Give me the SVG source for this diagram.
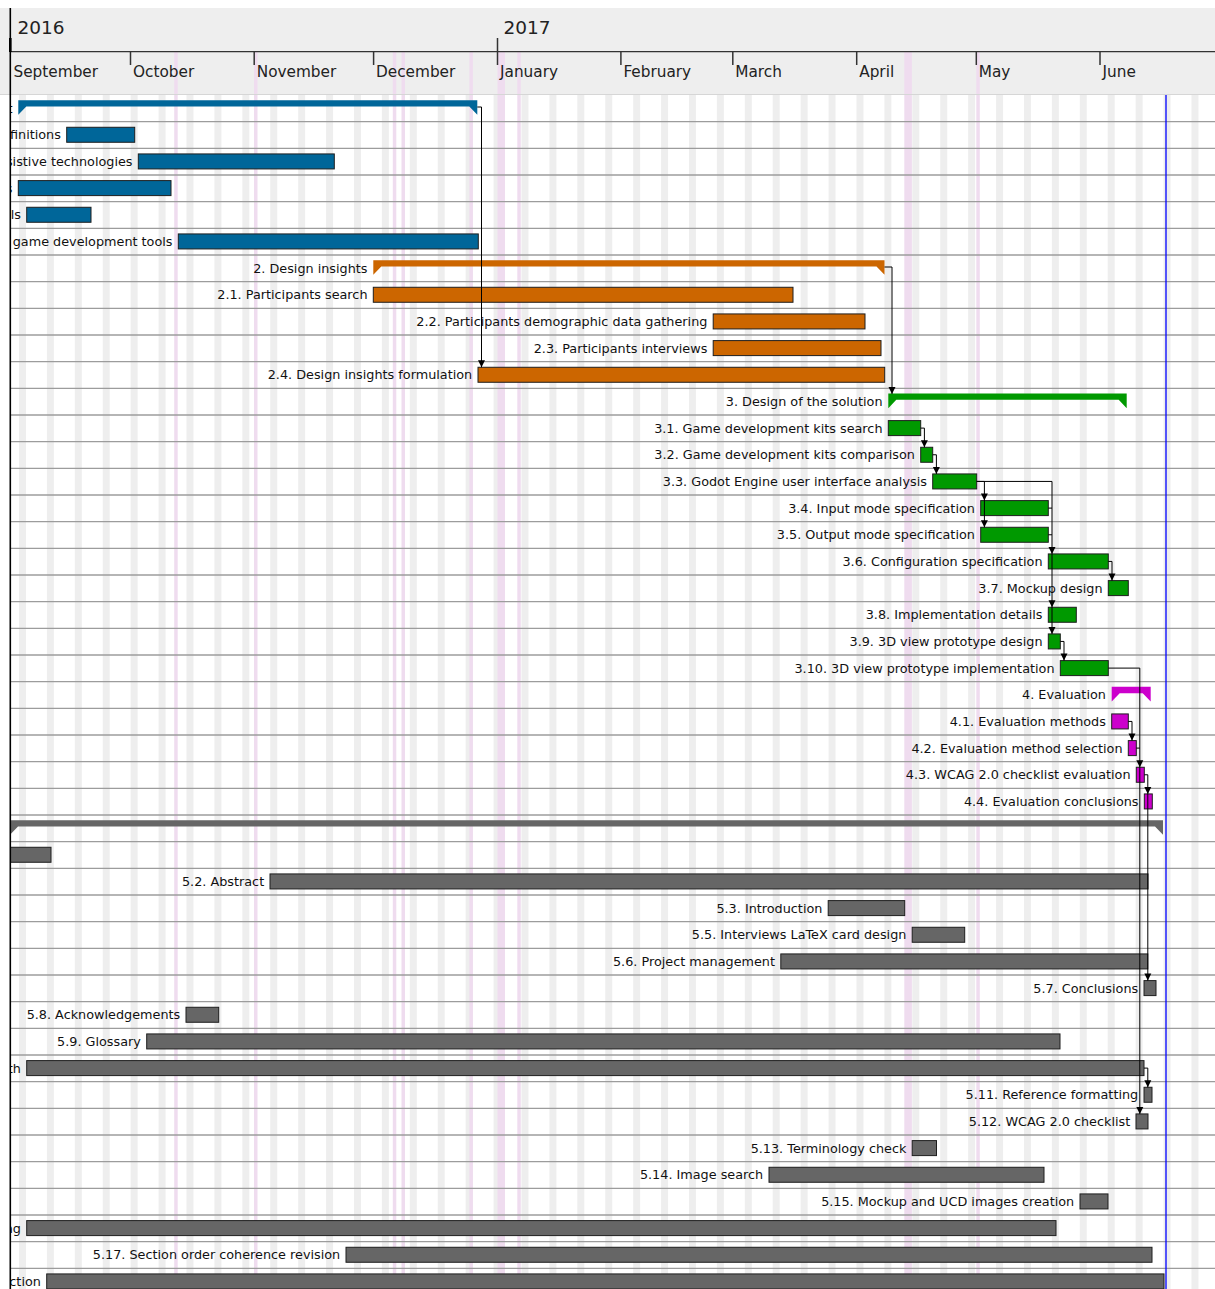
<svg xmlns="http://www.w3.org/2000/svg" xmlns:xlink="http://www.w3.org/1999/xlink" width="1215" height="1289" viewBox="0 0 1215 1289">
<defs>
<style>
  text { font-family: "DejaVu Sans", "Noto Sans", sans-serif; }
  .lbl { font-size: 12.8px; fill: #111; text-anchor: end; }
  .month { font-size: 15.3px; fill: #222; }
  .year { font-size: 18.5px; fill: #222; }
  .bar { stroke: #1e1e1e; stroke-width: 1; }
  .blue { fill: #006699; }
  .orange { fill: #cc6600; }
  .green { fill: #009900; }
  .magenta { fill: #cc00cc; }
  .grey { fill: #666666; }
  .row-line { stroke: #9c9c9c; stroke-width: 1.3; }
  .tick { stroke: #333; stroke-width: 1.5; }
  .holiday { fill: #efdcef; }
  .dep { fill: none; stroke: #000; stroke-width: 1; }
  .heads { fill: #000; stroke: none; }
</style>
<pattern id="weekend" patternUnits="userSpaceOnUse" x="19" y="0" width="27.916" height="1289">
  <rect x="0" y="0" width="7" height="1289" fill="#eeeeee"/>
</pattern>
<clipPath id="chart-clip">
  <rect x="10.6" y="0" width="1204.4" height="1289"/>
</clipPath>
<path id="arrow" d="M-3.5,-7 H3.5 L0,0 Z"/>
</defs>

<rect x="0" y="0" width="1215" height="1289" fill="#ffffff"/>
<rect id="header-background" x="0" y="8" width="1215" height="86" fill="#eeeeee"/>

<!-- calendar grid: weekends, holidays, row separators -->
<g id="calendar-grid">
  <rect x="10" y="95" width="1205" height="1194" fill="url(#weekend)"/>
  <rect class="holiday" x="174.2" y="52" width="3.5" height="1237"/>
  <rect class="holiday" x="254" y="52" width="3.5" height="1237"/>
  <rect class="holiday" x="392.8" y="52" width="3.5" height="1237"/>
  <rect class="holiday" x="401.5" y="52" width="3.5" height="1237"/>
  <rect class="holiday" x="469.4" y="52" width="3.5" height="1237"/>
  <rect class="holiday" x="497.5" y="52" width="7.5" height="1237"/>
  <rect class="holiday" x="517.3" y="52" width="3.5" height="1237"/>
  <rect class="holiday" x="904.3" y="52" width="7.6" height="1237"/>
  <rect class="holiday" x="976.3" y="52" width="3.5" height="1237"/>
  <g class="rows">
    <line class="row-line" x1="10" y1="121.67" x2="1215" y2="121.67"/>
    <line class="row-line" x1="10" y1="148.33" x2="1215" y2="148.33"/>
    <line class="row-line" x1="10" y1="175" x2="1215" y2="175"/>
    <line class="row-line" x1="10" y1="201.67" x2="1215" y2="201.67"/>
    <line class="row-line" x1="10" y1="228.33" x2="1215" y2="228.33"/>
    <line class="row-line" x1="10" y1="255" x2="1215" y2="255"/>
    <line class="row-line" x1="10" y1="281.67" x2="1215" y2="281.67"/>
    <line class="row-line" x1="10" y1="308.33" x2="1215" y2="308.33"/>
    <line class="row-line" x1="10" y1="335" x2="1215" y2="335"/>
    <line class="row-line" x1="10" y1="361.67" x2="1215" y2="361.67"/>
    <line class="row-line" x1="10" y1="388.33" x2="1215" y2="388.33"/>
    <line class="row-line" x1="10" y1="415" x2="1215" y2="415"/>
    <line class="row-line" x1="10" y1="441.67" x2="1215" y2="441.67"/>
    <line class="row-line" x1="10" y1="468.33" x2="1215" y2="468.33"/>
    <line class="row-line" x1="10" y1="495" x2="1215" y2="495"/>
    <line class="row-line" x1="10" y1="521.67" x2="1215" y2="521.67"/>
    <line class="row-line" x1="10" y1="548.33" x2="1215" y2="548.33"/>
    <line class="row-line" x1="10" y1="575" x2="1215" y2="575"/>
    <line class="row-line" x1="10" y1="601.67" x2="1215" y2="601.67"/>
    <line class="row-line" x1="10" y1="628.33" x2="1215" y2="628.33"/>
    <line class="row-line" x1="10" y1="655" x2="1215" y2="655"/>
    <line class="row-line" x1="10" y1="681.67" x2="1215" y2="681.67"/>
    <line class="row-line" x1="10" y1="708.33" x2="1215" y2="708.33"/>
    <line class="row-line" x1="10" y1="735" x2="1215" y2="735"/>
    <line class="row-line" x1="10" y1="761.67" x2="1215" y2="761.67"/>
    <line class="row-line" x1="10" y1="788.33" x2="1215" y2="788.33"/>
    <line class="row-line" x1="10" y1="815" x2="1215" y2="815"/>
    <line class="row-line" x1="10" y1="841.67" x2="1215" y2="841.67"/>
    <line class="row-line" x1="10" y1="868.33" x2="1215" y2="868.33"/>
    <line class="row-line" x1="10" y1="895" x2="1215" y2="895"/>
    <line class="row-line" x1="10" y1="921.67" x2="1215" y2="921.67"/>
    <line class="row-line" x1="10" y1="948.33" x2="1215" y2="948.33"/>
    <line class="row-line" x1="10" y1="975" x2="1215" y2="975"/>
    <line class="row-line" x1="10" y1="1001.67" x2="1215" y2="1001.67"/>
    <line class="row-line" x1="10" y1="1028.33" x2="1215" y2="1028.33"/>
    <line class="row-line" x1="10" y1="1055" x2="1215" y2="1055"/>
    <line class="row-line" x1="10" y1="1081.67" x2="1215" y2="1081.67"/>
    <line class="row-line" x1="10" y1="1108.33" x2="1215" y2="1108.33"/>
    <line class="row-line" x1="10" y1="1135" x2="1215" y2="1135"/>
    <line class="row-line" x1="10" y1="1161.67" x2="1215" y2="1161.67"/>
    <line class="row-line" x1="10" y1="1188.33" x2="1215" y2="1188.33"/>
    <line class="row-line" x1="10" y1="1215" x2="1215" y2="1215"/>
    <line class="row-line" x1="10" y1="1241.67" x2="1215" y2="1241.67"/>
    <line class="row-line" x1="10" y1="1268.33" x2="1215" y2="1268.33"/>
  </g>
  <line id="today" x1="1166" y1="95" x2="1166" y2="1289" stroke="#0000ff" stroke-width="1.3"/>
</g>

<!-- timeline header: years and months -->
<g id="timeline-header">
  <line x1="10" y1="51.7" x2="1215" y2="51.7" stroke="#333" stroke-width="1.3"/>
  <line x1="0" y1="94.5" x2="1215" y2="94.5" stroke="#d6d6d6" stroke-width="1"/>
  <line x1="10.3" y1="38" x2="10.3" y2="52" stroke="#000" stroke-width="2.6"/>
  <line class="tick" x1="497.5" y1="38" x2="497.5" y2="65"/>
  <g class="ticks">
    <line class="tick" x1="130.5" y1="51.7" x2="130.5" y2="65"/>
    <line class="tick" x1="254.2" y1="51.7" x2="254.2" y2="65"/>
    <line class="tick" x1="373.6" y1="51.7" x2="373.6" y2="65"/>
    <line class="tick" x1="620.9" y1="51.7" x2="620.9" y2="65"/>
    <line class="tick" x1="732.8" y1="51.7" x2="732.8" y2="65"/>
    <line class="tick" x1="856.7" y1="51.7" x2="856.7" y2="65"/>
    <line class="tick" x1="976.3" y1="51.7" x2="976.3" y2="65"/>
    <line class="tick" x1="1100" y1="51.7" x2="1100" y2="65"/>
  </g>
  <text class="year" x="17.5" y="34">2016</text>
  <text class="year" x="503.5" y="34">2017</text>
  <text class="month" x="13.5" y="76.5">September</text>
  <text class="month" x="133" y="76.5">October</text>
  <text class="month" x="256.7" y="76.5">November</text>
  <text class="month" x="376" y="76.5">December</text>
  <text class="month" x="500" y="76.5">January</text>
  <text class="month" x="623.4" y="76.5">February</text>
  <text class="month" x="735.3" y="76.5">March</text>
  <text class="month" x="859.2" y="76.5">April</text>
  <text class="month" x="978.8" y="76.5">May</text>
  <text class="month" x="1102.5" y="76.5">June</text>
</g>

<!-- tasks: one group per row -->
<g id="tasks" clip-path="url(#chart-clip)">
  <g id="task-1" transform="translate(0 95)">
    <path class="blue" d="M18.3,5.2 H477.3 V19.8 L469.3,11.5 H26.3 L18.3,19.8 Z"/>
    <text class="lbl" x="12.5" y="17.8">t</text>
  </g>
  <g id="task-1-1" transform="translate(0 121.67)">
    <rect class="bar blue" x="66.7" y="5.6" width="68" height="15"/>
    <text class="lbl" x="60.9" y="17.8">finitions</text>
  </g>
  <g id="task-1-2" transform="translate(0 148.33)">
    <rect class="bar blue" x="138.3" y="5.6" width="196" height="15"/>
    <text class="lbl" x="132.5" y="17.8">sistive technologies</text>
  </g>
  <g id="task-1-3" transform="translate(0 175)">
    <rect class="bar blue" x="18.3" y="5.6" width="152.7" height="15"/>
    <text class="lbl" x="12.5" y="17.8">s</text>
  </g>
  <g id="task-1-4" transform="translate(0 201.67)">
    <rect class="bar blue" x="26.7" y="5.6" width="64.3" height="15"/>
    <text class="lbl" x="20.9" y="17.8">ls</text>
  </g>
  <g id="task-1-5" transform="translate(0 228.33)">
    <rect class="bar blue" x="178.3" y="5.6" width="300" height="15"/>
    <text class="lbl" x="172.5" y="17.8">game development tools</text>
  </g>
  <g id="task-2" transform="translate(0 255)">
    <path class="orange" d="M373.3,5.2 H884.5 V19.8 L876.5,11.5 H381.3 L373.3,19.8 Z"/>
    <text class="lbl" x="367.5" y="17.8">2. Design insights</text>
  </g>
  <g id="task-2-1" transform="translate(0 281.67)">
    <rect class="bar orange" x="373.3" y="5.6" width="419.7" height="15"/>
    <text class="lbl" x="367.5" y="17.8">2.1. Participants search</text>
  </g>
  <g id="task-2-2" transform="translate(0 308.33)">
    <rect class="bar orange" x="713.2" y="5.6" width="151.8" height="15"/>
    <text class="lbl" x="707.4" y="17.8">2.2. Participants demographic data gathering</text>
  </g>
  <g id="task-2-3" transform="translate(0 335)">
    <rect class="bar orange" x="713.2" y="5.6" width="167.8" height="15"/>
    <text class="lbl" x="707.4" y="17.8">2.3. Participants interviews</text>
  </g>
  <g id="task-2-4" transform="translate(0 361.67)">
    <rect class="bar orange" x="478" y="5.6" width="406.7" height="15"/>
    <text class="lbl" x="472.2" y="17.8">2.4. Design insights formulation</text>
  </g>
  <g id="task-3" transform="translate(0 388.33)">
    <path class="green" d="M888.3,5.2 H1126.7 V19.8 L1118.7,11.5 H896.3 L888.3,19.8 Z"/>
    <text class="lbl" x="882.5" y="17.8">3. Design of the solution</text>
  </g>
  <g id="task-3-1" transform="translate(0 415)">
    <rect class="bar green" x="888.3" y="5.6" width="32.4" height="15"/>
    <text class="lbl" x="882.5" y="17.8">3.1. Game development kits search</text>
  </g>
  <g id="task-3-2" transform="translate(0 441.67)">
    <rect class="bar green" x="920.7" y="5.6" width="12" height="15"/>
    <text class="lbl" x="914.9" y="17.8">3.2. Game development kits comparison</text>
  </g>
  <g id="task-3-3" transform="translate(0 468.33)">
    <rect class="bar green" x="932.7" y="5.6" width="44" height="15"/>
    <text class="lbl" x="926.9" y="17.8">3.3. Godot Engine user interface analysis</text>
  </g>
  <g id="task-3-4" transform="translate(0 495)">
    <rect class="bar green" x="980.7" y="5.6" width="67.6" height="15"/>
    <text class="lbl" x="974.9" y="17.8">3.4. Input mode specification</text>
  </g>
  <g id="task-3-5" transform="translate(0 521.67)">
    <rect class="bar green" x="980.7" y="5.6" width="67.6" height="15"/>
    <text class="lbl" x="974.9" y="17.8">3.5. Output mode specification</text>
  </g>
  <g id="task-3-6" transform="translate(0 548.33)">
    <rect class="bar green" x="1048.3" y="5.6" width="60" height="15"/>
    <text class="lbl" x="1042.5" y="17.8">3.6. Configuration specification</text>
  </g>
  <g id="task-3-7" transform="translate(0 575)">
    <rect class="bar green" x="1108.3" y="5.6" width="20" height="15"/>
    <text class="lbl" x="1102.5" y="17.8">3.7. Mockup design</text>
  </g>
  <g id="task-3-8" transform="translate(0 601.67)">
    <rect class="bar green" x="1048.3" y="5.6" width="28" height="15"/>
    <text class="lbl" x="1042.5" y="17.8">3.8. Implementation details</text>
  </g>
  <g id="task-3-9" transform="translate(0 628.33)">
    <rect class="bar green" x="1048.3" y="5.6" width="12" height="15"/>
    <text class="lbl" x="1042.5" y="17.8">3.9. 3D view prototype design</text>
  </g>
  <g id="task-3-10" transform="translate(0 655)">
    <rect class="bar green" x="1060.3" y="5.6" width="48" height="15"/>
    <text class="lbl" x="1054.5" y="17.8">3.10. 3D view prototype implementation</text>
  </g>
  <g id="task-4" transform="translate(0 681.67)">
    <path class="magenta" d="M1111.7,5.2 H1150.7 V19.8 L1142.7,11.5 H1119.7 L1111.7,19.8 Z"/>
    <text class="lbl" x="1105.9" y="17.8">4. Evaluation</text>
  </g>
  <g id="task-4-1" transform="translate(0 708.33)">
    <rect class="bar magenta" x="1111.7" y="5.6" width="16.6" height="15"/>
    <text class="lbl" x="1105.9" y="17.8">4.1. Evaluation methods</text>
  </g>
  <g id="task-4-2" transform="translate(0 735)">
    <rect class="bar magenta" x="1128.3" y="5.6" width="8" height="15"/>
    <text class="lbl" x="1122.5" y="17.8">4.2. Evaluation method selection</text>
  </g>
  <g id="task-4-3" transform="translate(0 761.67)">
    <rect class="bar magenta" x="1136.3" y="5.6" width="8" height="15"/>
    <text class="lbl" x="1130.5" y="17.8">4.3. WCAG 2.0 checklist evaluation</text>
  </g>
  <g id="task-4-4" transform="translate(0 788.33)">
    <rect class="bar magenta" x="1144.3" y="5.6" width="8" height="15"/>
    <text class="lbl" x="1138.5" y="17.8">4.4. Evaluation conclusions</text>
  </g>
  <g id="task-5" transform="translate(0 815)">
    <path class="grey" d="M10,5.2 H1163 V19.8 L1155,11.5 H18 L10,19.8 Z"/>
  </g>
  <g id="task-5-1" transform="translate(0 841.67)">
    <rect class="bar grey" x="4" y="5.6" width="47" height="15"/>
  </g>
  <g id="task-5-2" transform="translate(0 868.33)">
    <rect class="bar grey" x="270" y="5.6" width="878" height="15"/>
    <text class="lbl" x="264.2" y="17.8">5.2. Abstract</text>
  </g>
  <g id="task-5-3" transform="translate(0 895)">
    <rect class="bar grey" x="828.2" y="5.6" width="76.5" height="15"/>
    <text class="lbl" x="822.4" y="17.8">5.3. Introduction</text>
  </g>
  <g id="task-5-5" transform="translate(0 921.67)">
    <rect class="bar grey" x="912.2" y="5.6" width="52.5" height="15"/>
    <text class="lbl" x="906.4" y="17.8">5.5. Interviews LaTeX card design</text>
  </g>
  <g id="task-5-6" transform="translate(0 948.33)">
    <rect class="bar grey" x="780.8" y="5.6" width="367" height="15"/>
    <text class="lbl" x="775" y="17.8">5.6. Project management</text>
  </g>
  <g id="task-5-7" transform="translate(0 975)">
    <rect class="bar grey" x="1144" y="5.6" width="12" height="15"/>
    <text class="lbl" x="1138.2" y="17.8">5.7. Conclusions</text>
  </g>
  <g id="task-5-8" transform="translate(0 1001.67)">
    <rect class="bar grey" x="186" y="5.6" width="32.7" height="15"/>
    <text class="lbl" x="180.2" y="17.8">5.8. Acknowledgements</text>
  </g>
  <g id="task-5-9" transform="translate(0 1028.33)">
    <rect class="bar grey" x="146.7" y="5.6" width="913.3" height="15"/>
    <text class="lbl" x="140.9" y="17.8">5.9. Glossary</text>
  </g>
  <g id="task-5-10" transform="translate(0 1055)">
    <rect class="bar grey" x="26.7" y="5.6" width="1117.3" height="15"/>
    <text class="lbl" x="20.9" y="17.8">th</text>
  </g>
  <g id="task-5-11" transform="translate(0 1081.67)">
    <rect class="bar grey" x="1144" y="5.6" width="8" height="15"/>
    <text class="lbl" x="1138.2" y="17.8">5.11. Reference formatting</text>
  </g>
  <g id="task-5-12" transform="translate(0 1108.33)">
    <rect class="bar grey" x="1136" y="5.6" width="12" height="15"/>
    <text class="lbl" x="1130.2" y="17.8">5.12. WCAG 2.0 checklist</text>
  </g>
  <g id="task-5-13" transform="translate(0 1135)">
    <rect class="bar grey" x="912.2" y="5.6" width="24.3" height="15"/>
    <text class="lbl" x="906.4" y="17.8">5.13. Terminology check</text>
  </g>
  <g id="task-5-14" transform="translate(0 1161.67)">
    <rect class="bar grey" x="769" y="5.6" width="275" height="15"/>
    <text class="lbl" x="763.2" y="17.8">5.14. Image search</text>
  </g>
  <g id="task-5-15" transform="translate(0 1188.33)">
    <rect class="bar grey" x="1080" y="5.6" width="28" height="15"/>
    <text class="lbl" x="1074.2" y="17.8">5.15. Mockup and UCD images creation</text>
  </g>
  <g id="task-5-16" transform="translate(0 1215)">
    <rect class="bar grey" x="26.7" y="5.6" width="1029.3" height="15"/>
    <text class="lbl" x="20.9" y="17.8">ng</text>
  </g>
  <g id="task-5-17" transform="translate(0 1241.67)">
    <rect class="bar grey" x="346" y="5.6" width="806" height="15"/>
    <text class="lbl" x="340.2" y="17.8">5.17. Section order coherence revision</text>
  </g>
  <g id="task-5-18" transform="translate(0 1268.33)">
    <rect class="bar grey" x="46.7" y="5.6" width="1117.3" height="15"/>
    <text class="lbl" x="40.9" y="17.8">ction</text>
  </g>
</g>

<!-- finish-to-start dependencies -->
<g id="dependencies">
  <g class="dep">
    <path d="M477.3,107 H481.5 V367.27"/>
    <path d="M884.5,267 H892 V393.93"/>
    <path d="M920.7,428.1 H924.4 V447.27"/>
    <path d="M932.7,454.77 H936.4 V473.93"/>
    <path d="M976.7,481.43 H984.4 V527.27"/>
    <path d="M976.7,481.43 H1052 V633.93"/>
    <path d="M1048.3,508.1 H1052 M1048.3,534.77 H1052"/>
    <path d="M1108.3,561.43 H1112 V580.6"/>
    <path d="M1060.3,641.43 H1064 V660.6"/>
    <path d="M1108.3,668.1 H1139.8 V1113.93"/>
    <path d="M1128.3,721.43 H1132 V740.6"/>
    <path d="M1136.3,748.1 H1139.8"/>
    <path d="M1144.3,774.77 H1147.8 V980.6"/>
    <path d="M1144,1068.1 H1147.8 V1087.27"/>
  </g>
  <g class="heads">
    <use xlink:href="#arrow" x="481.5" y="367.27"/>
    <use xlink:href="#arrow" x="892" y="393.93"/>
    <use xlink:href="#arrow" x="924.4" y="447.27"/>
    <use xlink:href="#arrow" x="936.4" y="473.93"/>
    <use xlink:href="#arrow" x="984.4" y="500.6"/>
    <use xlink:href="#arrow" x="984.4" y="527.27"/>
    <use xlink:href="#arrow" x="1052" y="553.93"/>
    <use xlink:href="#arrow" x="1052" y="607.27"/>
    <use xlink:href="#arrow" x="1052" y="633.93"/>
    <use xlink:href="#arrow" x="1112" y="580.6"/>
    <use xlink:href="#arrow" x="1064" y="660.6"/>
    <use xlink:href="#arrow" x="1132" y="740.6"/>
    <use xlink:href="#arrow" x="1139.8" y="767.27"/>
    <use xlink:href="#arrow" x="1139.8" y="1113.93"/>
    <use xlink:href="#arrow" x="1147.8" y="793.93"/>
    <use xlink:href="#arrow" x="1147.8" y="980.6"/>
    <use xlink:href="#arrow" x="1147.8" y="1087.27"/>
  </g>
</g>

<!-- left border of the chart area -->
<line x1="10.3" y1="8" x2="10.3" y2="1289" stroke="#000" stroke-width="1.6"/>
</svg>
